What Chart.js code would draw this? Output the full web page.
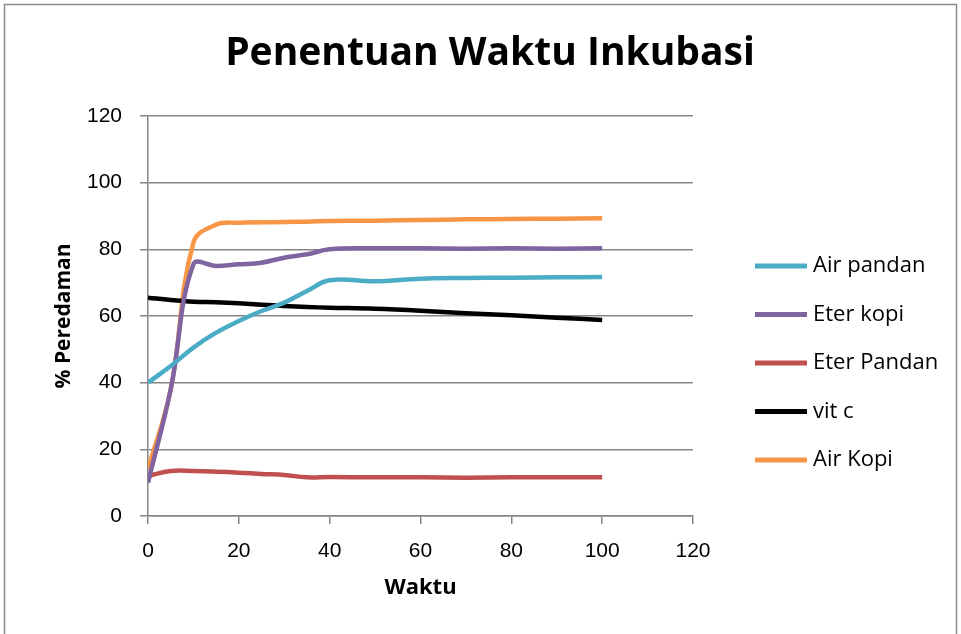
<!DOCTYPE html>
<html>
<head>
<meta charset="utf-8">
<script src="https://cdn.jsdelivr.net/npm/chart.js@4.4.0/dist/chart.umd.min.js"></script>
<style>
  html, body { margin: 0; padding: 0; background: #ffffff; }
  #wrap { width: 961px; height: 634px; position: relative; }
</style>
</head>
<body>
<div id="wrap"><canvas id="chart" width="961" height="634"></canvas></div>
<script>
// Data
const waktu = [0, 5, 10, 15, 20, 25, 30, 35, 40, 50, 60, 70, 80, 90, 100];

const airPandan  = [40, 45, 50.5, 55, 58.5, 61.5, 64, 67.5, 70.7, 70.4, 71.2, 71.4, 71.5, 71.6, 71.7];
const eterKopi   = [10, 38, 75.5, 75, 75.5, 76, 77.5, 78.5, 80, 80.3, 80.3, 80.2, 80.3, 80.2, 80.3];
const eterPandan = [12, 13.5, 13.5, 13.3, 13, 12.6, 12.3, 11.6, 11.7, 11.6, 11.6, 11.5, 11.6, 11.6, 11.6];
const vitC       = [65.5, 64.8, 64.3, 64.1, 63.8, 63.4, 63, 62.7, 62.5, 62.2, 61.6, 60.8, 60.2, 59.5, 58.8];
const airKopi    = [14, 38, 82, 87.4, 88, 88.1, 88.2, 88.3, 88.5, 88.6, 88.8, 89, 89.1, 89.2, 89.3];

const seriesNames  = ['Air pandan', 'Eter kopi', 'Eter Pandan', 'vit c', 'Air Kopi'];
const seriesValues = [airPandan, eterKopi, eterPandan, vitC, airKopi];
const seriesColors = ['#4bacc6', '#8064a2', '#c0504d', '#000000', '#f79646'];

const chartTitle = 'Penentuan Waktu Inkubasi';
const xTitle = 'Waktu';
const yTitle = '% Peredaman';

function toPoints(values) {
    return values.map((v, i) => ({ x: waktu[i], y: v }));
}

// Title, legend and outer frame drawn on the canvas
const decorPlugin = {
    id: 'decor',
    afterDraw(chart) {
        const ctx = chart.ctx;
        ctx.save();
        ctx.strokeStyle = '#8c8c8c';
        ctx.lineWidth = 1.5;
        ctx.strokeRect(4.5, 4.5, 952, 640);

        ctx.fillStyle = '#000';
        ctx.font = 'bold 39px "Open Sans"';
        ctx.textAlign = 'center';
        ctx.textBaseline = 'middle';
        ctx.fillText(chartTitle, 490, 54);

        ctx.textAlign = 'left';
        ctx.font = '22px "Open Sans"';
        const top = 266, step = 48.5;
        chart.data.datasets.forEach((ds, i) => {
            const y = top + i * step;
            ctx.strokeStyle = ds.borderColor;
            ctx.lineWidth = 5;
            ctx.beginPath();
            ctx.moveTo(755, y);
            ctx.lineTo(807, y);
            ctx.stroke();
            ctx.fillStyle = '#000';
            ctx.fillText(ds.label, 813, y);
        });
        ctx.restore();
    }
};

const ctx = document.getElementById('chart').getContext('2d');
new Chart(ctx, {
    type: 'scatter',
    data: {
        datasets: seriesNames.map((name, i) => ({
            label: name,
            data: toPoints(seriesValues[i]),
            showLine: true,
            borderColor: seriesColors[i],
            backgroundColor: seriesColors[i],
            borderWidth: 4.5,
            pointRadius: 0,
            tension: 0.4
        }))
    },
    options: {
        responsive: false,
        animation: false,
        layout: { padding: { left: 47, right: 268, top: 116, bottom: 29 } },
        plugins: {
            legend: { display: false },
            title: { display: false },
            tooltip: { enabled: false }
        },
        scales: {
            x: {
                type: 'linear',
                min: 0,
                max: 120,
                ticks: { stepSize: 20, color: '#000', padding: 15, font: { family: '"Liberation Sans"', size: 21 } },
                grid: { drawOnChartArea: false, drawTicks: true, tickLength: 8, color: '#868686', lineWidth: 1.5 },
                border: { color: '#868686', width: 1.5 },
                title: { display: true, text: xTitle, color: '#000', font: { family: '"Open Sans"', size: 22, weight: 'bold' } },
                afterFit(scale) { scale.height = 89; }
            },
            y: {
                min: 0,
                max: 120,
                ticks: { stepSize: 20, color: '#000', padding: 18, font: { family: '"Liberation Sans"', size: 21 } },
                grid: { color: '#868686', lineWidth: 1.5, tickLength: 8 },
                border: { color: '#868686', width: 1.5 },
                title: { display: true, text: yTitle, color: '#000', font: { family: '"Open Sans"', size: 21, weight: 'bold' } },
                afterFit(scale) { scale.width = 101; }
            }
        }
    },
    plugins: [decorPlugin]
});
</script>
</body>
</html>
